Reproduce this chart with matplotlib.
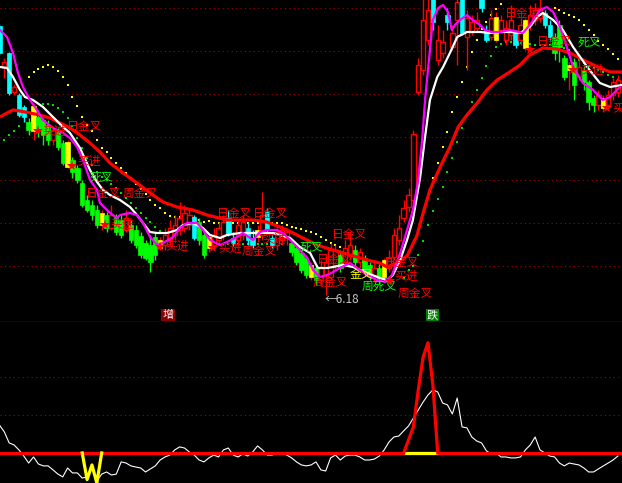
import matplotlib
matplotlib.use('Agg')
import matplotlib.pyplot as plt
from matplotlib.patches import Rectangle

plt.rcParams['font.family'] = ['Noto Sans CJK SC', 'DejaVu Sans']

# ---------------- price bars ----------------
opens = [8.87, 8.46, 8.60, 8.21, 8.18, 8.06, 7.91, 8.07, 7.96, 7.93,
         7.88, 7.73, 7.81, 7.70, 7.71, 7.53, 7.45, 7.30, 7.13, 7.08,
         7.03, 7.00, 6.98, 6.85, 6.95, 6.93, 6.83, 6.88, 6.83, 6.77,
         6.70, 6.68, 6.76, 6.73, 6.68, 6.73, 6.78, 6.83, 6.85, 6.88,
         6.96, 6.91, 6.78, 6.76, 6.68, 6.73, 6.78, 6.95, 6.75, 6.73,
         6.78, 6.85, 6.75, 6.83, 6.78, 7.01, 6.75, 6.68, 6.73, 6.75,
         6.70, 6.65, 6.60, 6.55, 6.48, 6.45, 6.33, 6.38, 6.36, 6.48,
         6.58, 6.51, 6.58, 6.63, 6.51, 6.55, 6.48, 6.38, 6.45, 6.53,
         6.45, 6.56, 6.73, 6.95, 7.06, 7.13, 8.21, 8.43, 8.73, 9.18,
         8.53, 8.60, 8.98, 8.66, 8.93, 9.18, 8.76, 8.81, 8.85, 9.18,
         8.83, 8.76, 8.96, 8.83, 8.73, 8.78, 8.80, 8.73, 8.93, 8.88,
         8.93, 8.95, 9.00, 8.88, 8.76, 8.88, 8.55, 8.48, 8.51, 8.36,
         8.43, 8.31, 8.15, 8.08, 8.15, 8.08, 8.18, 8.21]
closes = [8.60, 8.51, 8.20, 8.26, 7.98, 7.96, 7.83, 7.82, 7.83, 7.78,
          7.73, 7.83, 7.66, 7.50, 7.46, 7.41, 7.33, 7.08, 7.03, 6.98,
          6.88, 6.88, 6.85, 6.98, 6.81, 6.78, 6.95, 6.73, 6.68, 6.58,
          6.55, 6.51, 6.58, 6.65, 6.78, 6.85, 6.88, 6.95, 7.00, 6.98,
          6.75, 6.73, 6.58, 6.65, 6.78, 6.85, 6.91, 6.80, 6.70, 6.88,
          6.91, 6.73, 6.68, 6.76, 6.98, 6.83, 6.68, 6.81, 6.83, 6.81,
          6.61, 6.51, 6.43, 6.38, 6.36, 6.33, 6.45, 6.51, 6.63, 6.63,
          6.45, 6.65, 6.68, 6.51, 6.61, 6.43, 6.38, 6.45, 6.35, 6.36,
          6.55, 6.78, 6.85, 7.05, 7.18, 7.79, 8.48, 8.93, 9.03, 8.91,
          8.73, 8.71, 8.91, 8.80, 9.11, 8.80, 8.95, 8.91, 8.93, 9.05,
          8.73, 8.95, 8.73, 8.93, 8.85, 8.93, 8.68, 8.88, 8.65, 8.98,
          9.03, 9.05, 8.88, 8.76, 8.60, 8.66, 8.36, 8.43, 8.28, 8.46,
          8.31, 8.11, 8.08, 8.18, 8.05, 8.18, 8.31, 8.33]
highs = [8.89, 8.55, 8.61, 8.29, 8.20, 8.08, 7.95, 8.09, 7.98, 7.95,
         7.93, 7.85, 7.85, 7.73, 7.73, 7.56, 7.48, 7.33, 7.18, 7.13,
         7.08, 7.03, 7.01, 7.08, 6.99, 6.98, 7.03, 6.93, 6.88, 6.81,
         6.73, 6.78, 6.80, 6.76, 6.85, 6.93, 6.98, 7.11, 7.08, 7.05,
         6.98, 6.95, 6.83, 6.78, 6.85, 6.91, 6.98, 7.03, 6.81, 6.93,
         6.98, 6.91, 6.83, 6.88, 7.21, 7.05, 6.81, 6.88, 6.88, 6.85,
         6.73, 6.69, 6.63, 6.58, 6.51, 6.48, 6.53, 6.58, 6.70, 6.68,
         6.63, 6.73, 6.81, 6.68, 6.65, 6.58, 6.51, 6.51, 6.49, 6.55,
         6.63, 6.85, 6.98, 7.13, 7.25, 7.83, 8.55, 9.25, 9.25, 9.25,
         8.88, 8.83, 9.05, 8.88, 9.25, 9.25, 9.03, 8.98, 9.01, 9.25,
         8.88, 9.03, 9.01, 8.98, 8.93, 9.08, 8.83, 8.95, 8.95, 9.08,
         9.10, 9.25, 9.03, 8.93, 8.80, 8.93, 8.58, 8.51, 8.55, 8.53,
         8.47, 8.33, 8.18, 8.23, 8.18, 8.23, 8.35, 8.38]
lows = [8.58, 8.35, 8.18, 8.18, 7.96, 7.91, 7.78, 7.73, 7.76, 7.68,
        7.68, 7.68, 7.63, 7.48, 7.45, 7.35, 7.30, 7.06, 7.01, 6.93,
        6.85, 6.83, 6.81, 6.83, 6.78, 6.75, 6.81, 6.70, 6.65, 6.55,
        6.53, 6.41, 6.53, 6.63, 6.63, 6.68, 6.73, 6.78, 6.81, 6.83,
        6.73, 6.68, 6.55, 6.61, 6.65, 6.68, 6.73, 6.77, 6.67, 6.68,
        6.73, 6.68, 6.65, 6.71, 6.73, 6.80, 6.65, 6.63, 6.68, 6.68,
        6.57, 6.48, 6.40, 6.35, 6.33, 6.28, 6.28, 6.18, 6.33, 6.43,
        6.41, 6.48, 6.53, 6.47, 6.45, 6.38, 6.33, 6.31, 6.29, 6.31,
        6.41, 6.53, 6.68, 6.91, 7.01, 7.08, 8.18, 8.38, 8.68, 8.83,
        8.48, 8.55, 8.83, 8.63, 8.48, 8.78, 8.43, 8.78, 8.81, 9.01,
        8.71, 8.73, 8.71, 8.80, 8.68, 8.73, 8.65, 8.68, 8.63, 8.83,
        8.88, 8.91, 8.85, 8.73, 8.53, 8.51, 8.33, 8.23, 8.13, 8.33,
        8.23, 8.03, 8.01, 8.03, 8.01, 8.03, 8.13, 8.16]
# bar state: r = up (hollow red), g = down, c = down (cyan state), y = signal bar
bar_state = ("crcrccgygg" "grggyggggg" "gygrggrggg" "gggyrrrrrr" "cggyrrrccr"
             "rccyrccrrr" "ggggygrrrr" "grrgrggrgy" "rrrrrrrrrc" "rrcrrcrrrc"
             "cryrrrcryr" "rrccgggygr" "gggryrrr")

# ---------------- moving-average style lines (bar index, price) ----------------
white_x = [0.12, 1.55, 2.79, 4.22, 5.25, 6.89, 8.95, 11.0, 13.05, 14.49, 16.54, 18.6, 20.04,
           21.27, 22.7, 24.76, 26.81, 28.25, 29.48, 30.92, 32.36, 34.41, 36.46, 37.69, 39.75,
           41.8, 43.24, 45.29, 46.73, 49.4, 53.5, 56.2, 57.6, 59.7, 61.7, 63.8, 65.4, 67.3,
           68.5, 70.5, 72.6, 75.5, 78.1, 79.6, 80.8, 82.3, 83.7, 84.9, 86.4, 87.4, 88.4, 89.9,
           91.1, 92.5, 94.0, 96.0, 98.7, 100.7, 102.8, 104.8, 106.9, 108.9, 110.4, 111.6,
           113.7, 115.7, 117.8, 120.7, 123.3, 125.4, 127.8]
white_y = [8.46, 8.45, 8.36, 8.23, 8.16, 8.13, 8.06, 7.96, 7.86, 7.80, 7.65, 7.43, 7.31,
           7.23, 7.18, 7.13, 7.06, 6.98, 6.90, 6.81, 6.80, 6.80, 6.83, 6.88, 6.90,
           6.85, 6.78, 6.75, 6.78, 6.80, 6.80, 6.80, 6.78, 6.75, 6.66, 6.60, 6.45, 6.45,
           6.46, 6.48, 6.46, 6.40, 6.35, 6.33, 6.38, 6.53, 6.73, 6.93, 7.36, 7.76, 8.13, 8.36,
           8.46, 8.60, 8.76, 8.81, 8.81, 8.80, 8.81, 8.81, 8.80, 8.86, 8.96, 9.00,
           8.93, 8.83, 8.66, 8.46, 8.30, 8.26, 8.28]
magenta_x = [0.12, 1.55, 2.79, 3.81, 4.84, 6.28, 7.71, 8.95, 11.0, 13.05, 14.49, 15.93, 17.16,
             18.6, 20.04, 20.65, 22.7, 24.14, 24.76, 26.81, 28.25, 29.48, 30.92, 32.36, 33.59,
             35.64, 37.08, 38.5, 40.57, 41.8, 43.24, 45.29, 46.73, 48.78, 50.0, 52.07, 53.5,
             54.9, 57.0, 58.2, 59.7, 61.7, 63.2, 64.4, 65.8, 67.3, 68.5, 69.9, 72.0, 73.4,
             75.5, 77.5, 79.2, 80.6, 82.3, 83.7, 84.9, 85.9, 86.8, 87.4, 88.4, 89.0, 90.1,
             91.1, 92.1, 92.9, 93.5, 94.6, 96.0, 97.2, 98.7, 99.7, 101.1, 102.8, 104.8, 107.5,
             108.9, 111.0, 112.4, 113.7, 115.1, 116.5, 117.8, 119.8, 121.9, 123.9, 125.4, 127.4]
magenta_y = [8.83, 8.76, 8.60, 8.40, 8.26, 8.13, 8.03, 7.93, 7.85, 7.80, 7.75, 7.66, 7.53,
             7.33, 7.23, 7.10, 7.00, 6.95, 6.98, 7.00, 6.98, 6.90, 6.76, 6.68, 6.70,
             6.76, 6.85, 6.90, 6.90, 6.83, 6.73, 6.68, 6.71, 6.76, 6.80, 6.73, 6.81,
             6.83, 6.83, 6.80, 6.73, 6.63, 6.55, 6.43, 6.36, 6.38, 6.41, 6.45, 6.50, 6.45,
             6.38, 6.33, 6.31, 6.38, 6.60, 6.83, 7.03, 7.30, 7.73, 8.13, 8.63, 8.93, 9.05,
             9.08, 9.01, 8.83, 8.88, 8.93, 8.98, 8.93, 8.88, 8.83, 8.81, 8.81, 8.83, 8.80,
             8.88, 9.03, 9.06, 9.01, 8.86, 8.66, 8.46, 8.30, 8.23, 8.13, 8.16, 8.26]
red_x = [0.12, 1.55, 2.79, 4.22, 6.28, 8.33, 10.38, 12.44, 14.49, 16.54, 18.6, 20.65, 22.7,
         25.37, 28.25, 30.92, 33.59, 36.46, 39.75, 42.62, 46.73, 52.07, 54.9, 57.6, 60.3,
         62.3, 65.2, 68.5, 72.0, 75.5, 78.1, 79.6, 81.6, 83.7, 85.7, 87.0, 88.4, 90.5, 92.5,
         94.2, 96.0, 98.1, 100.1, 102.2, 104.8, 106.9, 108.9, 111.6, 114.5, 117.2, 120.7,
         123.3, 125.4, 127.8]
red_y = [7.96, 8.00, 8.03, 8.02, 8.00, 7.98, 7.95, 7.90, 7.85, 7.78, 7.70, 7.61, 7.50,
         7.40, 7.30, 7.20, 7.11, 7.06, 7.03, 6.98, 6.93, 6.93, 6.91, 6.86, 6.80,
         6.75, 6.68, 6.63, 6.58, 6.53, 6.50, 6.46, 6.50, 6.57, 6.77, 7.00, 7.23, 7.46, 7.66,
         7.86, 7.98, 8.10, 8.23, 8.33, 8.41, 8.48, 8.58, 8.65, 8.64, 8.60, 8.51,
         8.45, 8.41, 8.41]

# ---------------- dotted stop lines ----------------
yellow_dot_x = list(range(6, 73)) + list(range(89, 104)) + list(range(114, 128))
yellow_dot_y = [8.36, 8.41, 8.44, 8.46, 8.48, 8.46, 8.42, 8.36, 8.28, 8.16, 8.07, 7.96, 7.88,
                7.82, 7.73, 7.65, 7.61, 7.55, 7.50, 7.45, 7.40, 7.35, 7.29, 7.24, 7.19, 7.13,
                7.08, 7.05, 7.00, 6.97, 6.96, 6.96, 6.96, 6.95, 6.95, 6.93, 6.91, 6.92,
                6.90, 6.90, 6.90, 6.90, 6.90, 6.90, 6.90, 6.90, 6.90, 6.90, 6.90, 6.90, 6.90,
                6.90, 6.90, 6.88, 6.86, 6.85, 6.84, 6.82, 6.81, 6.79, 6.76, 6.73, 6.70, 6.68,
                6.66, 6.64, 6.62,
                7.35, 7.50, 7.66, 7.81, 8.01, 8.16, 8.31, 8.46, 8.61, 8.73, 8.84, 8.91, 8.98,
                9.04, 9.09,
                9.05, 9.03, 9.00, 8.98, 8.96, 8.93, 8.88, 8.83, 8.78, 8.72, 8.68, 8.64, 8.59,
                8.54]
green_dot_x = list(range(0, 5)) + list(range(9, 35)) + list(range(44, 59)) + list(range(83, 128))
green_dot_y = [7.68, 7.73, 7.78, 7.82, 7.87,
               8.09, 8.09, 8.08, 8.05, 8.01, 7.95, 7.87, 7.75, 7.65, 7.55, 7.48, 7.41, 7.36,
               7.33, 7.29, 7.25, 7.20, 7.15, 7.10, 7.05, 7.00, 6.95, 6.91, 6.86, 6.82, 6.80,
               6.69, 6.69, 6.69, 6.69, 6.69, 6.69, 6.69, 6.69, 6.69, 6.69, 6.69, 6.69, 6.69,
               6.69, 6.69,
               6.35, 6.43, 6.47, 6.58, 6.72, 6.88, 7.02, 7.14, 7.26, 7.41, 7.55, 7.71, 7.85,
               7.98, 8.11, 8.23, 8.35, 8.47, 8.57, 8.66, 8.69, 8.71, 8.71, 8.71, 8.70, 8.70,
               8.69, 8.68, 8.68, 8.68, 8.68, 8.67, 8.66, 8.65, 8.63, 8.58, 8.53, 8.50, 8.47,
               8.45, 8.43, 8.41, 8.38, 8.36, 8.33]
grid_levels = [9.05, 8.62, 8.19, 7.76, 7.33, 6.90, 6.47]

# ---------------- signal labels (bar index, price, text, kind) ----------------
labels = [(13.9, 7.87, "日金叉", "r"), (8.74, 7.82, "买进", "r"), (15.93, 7.52, "买进", "r"),
          (18.6, 7.36, "死叉", "g"), (17.8, 7.20, "日金叉", "r"), (25.3, 7.20, "周金叉", "r"),
          (22.7, 6.89, "买进", "r"), (34.0, 6.67, "买进", "r"), (44.7, 7.00, "日金叉", "r"),
          (52.1, 7.00, "日金叉", "r"), (44.9, 6.65, "买进", "r"), (49.8, 6.62, "周金叉", "r"),
          (54.1, 6.74, "买进", "r"), (61.7, 6.66, "死叉", "g"), (68.3, 6.79, "日金叉", "r"),
          (65.2, 6.53, "日金叉", "r"), (72.0, 6.39, "金叉", "y"), (64.4, 6.31, "周金叉", "r"),
          (74.45, 6.27, "周死叉", "g"), (78.97, 6.51, "日金叉", "r"), (81.2, 6.37, "买进", "r"),
          (81.8, 6.20, "周金叉", "r"), (103.8, 9.00, "日金叉", "r"), (118.8, 8.71, "死叉", "g"),
          (110.4, 8.71, "日金叉", "r"), (119.2, 8.43, "买进", "r"), (125.8, 8.05, "买进", "r")]
stars_x = [7.92, 14.9, 21.7, 32.97, 43.9, 80.2, 108.9, 117.8, 124.8]
stars_y = [7.82, 7.47, 6.88, 6.66, 6.65, 6.32, 8.63, 8.43, 8.05]
low_mark_x, low_mark_y, low_mark_text = 66.85, 6.14, "←6.18"

# ---------------- lower indicator ----------------
osc = [14.7, 11.1, 5.3, 4.2, 1.6, -1.6, -5.3, -2.1, -5.8, -6.8,
       -6.8, -8.9, -11.1, -12.6, -7.9, -10.5, -10.5, -13.2, -12.6, -7.9,
       -14.7, -11.1, -10.0, -11.6, -11.1, -4.7, -5.3, -6.8, -7.4, -7.9,
       -10.0, -8.4, -6.8, -3.7, -2.1, -1.1, 1.6, 3.2, 2.6, 0.5,
       -1.1, -3.7, -4.7, -2.6, -1.1, -2.1, 1.6, 2.6, -1.1, -2.1,
       -0.5, -1.6, 0.5, 3.7, 1.6, -1.1, -1.1, 0.0, 0.0, -1.1,
       -2.6, -4.7, -6.3, -6.8, -6.3, -4.7, -8.9, -9.5, -2.6, -1.1,
       -3.7, -1.6, -1.1, -1.1, -2.1, -3.7, -3.7, -3.2, -1.6, 1.6,
       5.8, 8.4, 8.9, 11.6, 14.2, 18.4, 22.6, 26.8, 30.5, 33.2,
       32.1, 26.3, 25.3, 20.5, 28.9, 13.7, 13.2, 8.4, 6.3, 5.3,
       1.1, -0.5, 0.0, -2.1, -2.1, -2.6, -2.6, -2.1, 1.6, 4.2,
       8.4, 1.6, 0.0, -1.6, -2.1, -5.3, -6.8, -5.3, -5.8, -6.3,
       -7.9, -10.0, -10.0, -8.4, -6.8, -5.3, -3.7, -1.6]
spike_x = [83, 84, 85, 86, 87, 88, 89, 90]
spike_v = [0, 6.8, 13.7, 33.0, 50.5, 58.0, 35.8, 0]
w_x = [17, 18, 19, 20, 21]
w_v = [0, -14.0, -6.3, -15.8, 0]
osc_levels = [20, 40]

# ================= drawing =================
W, H = 622, 483
fig = plt.figure(figsize=(W / 100, H / 100), dpi=100, facecolor='black')
ax = fig.add_axes([0, 161 / H, 1, 322 / H], facecolor='black')
ax2 = fig.add_axes([0, 0, 1, 161 / H], facecolor='black')
xl = (0.117, 127.84)
for a in (ax, ax2):
    a.set_xlim(*xl)
    a.set_xticks([])
    a.set_yticks([])
    for s in a.spines.values():
        s.set_visible(False)
ax.set_ylim(5.91, 9.13)
ax.spines['bottom'].set_visible(True)
ax.spines['bottom'].set_color('#d00000')
ax.spines['bottom'].set_linewidth(1.0)

dot_style = dict(color='#a00000', lw=0.8, linestyle=(0, (1, 3)))
for g in grid_levels:
    ax.axhline(g, zorder=0, **dot_style)

colors = {'r': '#ff0000', 'g': '#00ff00', 'c': '#00ffff', 'y': '#ffff00'}
bw = 0.9
for i, k in enumerate(bar_state):
    o, c, h, l = opens[i], closes[i], highs[i], lows[i]
    col = colors[k]
    wick_col = '#ff0000' if k in 'ry' else col
    ax.vlines(i, l, h, color=wick_col, lw=1.0, zorder=2)
    lo, hi = min(o, c), max(o, c)
    ht = max(hi - lo, 0.01)
    if k == 'r':
        ax.add_patch(Rectangle((i - bw / 2, lo), bw, ht, fc='black', ec=col, lw=1.0, zorder=3))
    else:
        ax.add_patch(Rectangle((i - bw / 2, lo), bw, ht, fc=col, ec=col, lw=0.5, zorder=3))

ax.plot(yellow_dot_x, yellow_dot_y, 's', color='#ffff00', ms=1.5, mew=0, ls='none', zorder=1.5)
ax.plot(green_dot_x, green_dot_y, 's', color='#00e000', ms=1.7, mew=0, ls='none', zorder=1.5)

ax.plot(red_x, red_y, color='#ff0000', lw=2.3, zorder=4, solid_capstyle='butt')
ax.plot(white_x, white_y, color='white', lw=1.6, zorder=5)
ax.plot(magenta_x, magenta_y, color='#ff00ff', lw=1.6, zorder=5)

tcol = {'r': '#ff0000', 'g': '#00ff00', 'y': '#ffff00'}
for x, y, t, k in labels:
    ax.text(x, y, t, color=tcol[k], fontsize=8.5, ha='left', va='center', zorder=6)
ax.plot(stars_x, stars_y, '*', color='#ff0000', ms=8, mew=0, ls='none', zorder=6)
ax.text(low_mark_x, low_mark_y, low_mark_text, color='#c8c8c8', fontsize=8.5,
        ha='left', va='center', zorder=6)

# lower panel
ax2.set_ylim(-15.8, 68.9)
for lv in osc_levels:
    ax2.axhline(lv, zorder=0, **dot_style)
ax2.plot(range(len(osc)), osc, color='white', lw=0.8, zorder=2)
ax2.axhline(0, color='#ff0000', lw=2.3, zorder=3)
ax2.plot([spike_x[0], spike_x[-1]], [0, 0], color='#ffff00', lw=2.3, zorder=4,
         solid_capstyle='butt')
ax2.plot(spike_x, spike_v, color='#ff0000', lw=2.3, zorder=5)
ax2.plot(w_x, w_v, color='#ffff00', lw=2.3, zorder=5)

# section tags
fig.text(168 / W, 1 - 315 / H, "增", color='white', fontsize=8, ha='center', va='center',
         bbox=dict(boxstyle='square,pad=0.12', fc='#8b0000', ec='none'))
fig.text(432.5 / W, 1 - 315 / H, "跌", color='white', fontsize=8, ha='center', va='center',
         bbox=dict(boxstyle='square,pad=0.12', fc='#008000', ec='none'))

fig.savefig('out.png', dpi=100, facecolor='black')
